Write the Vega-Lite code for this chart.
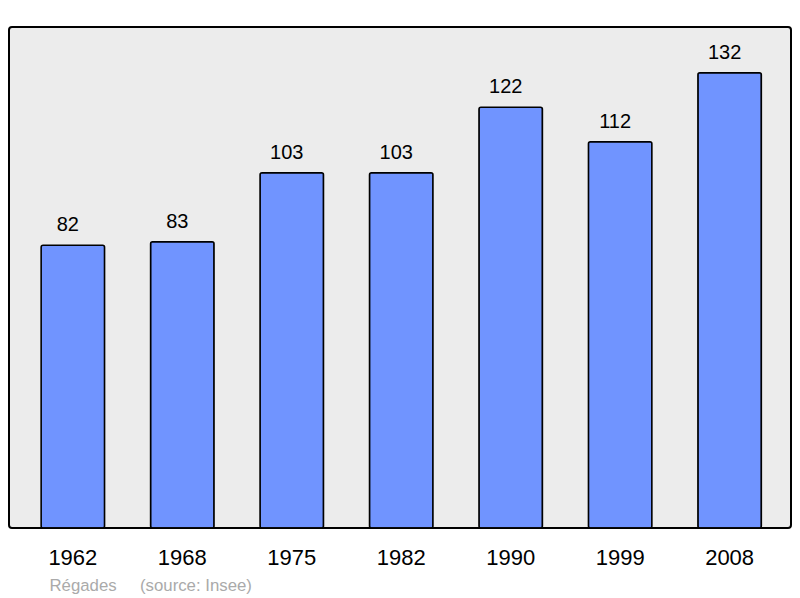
{
  "$schema": "https://vega.github.io/schema/vega-lite/v6.json",
  "width": 782,
  "height": 501,
  "padding": {"left": 9, "top": 27, "right": 9, "bottom": 70},
  "autosize": {"type": "none"},
  "background": "#ffffff",
  "config": {
    "view": {"stroke": "#000000", "strokeWidth": 2, "fill": "#ececec", "cornerRadius": 3},
    "font": "Liberation Sans"
  },
  "data": {
    "values": [
      {"year": "1962", "pop": 82},
      {"year": "1968", "pop": 83},
      {"year": "1975", "pop": 103},
      {"year": "1982", "pop": 103},
      {"year": "1990", "pop": 122},
      {"year": "1999", "pop": 112},
      {"year": "2008", "pop": 132}
    ]
  },
  "encoding": {
    "x": {
      "field": "year",
      "type": "nominal",
      "sort": null,
      "scale": {"paddingInner": 0.42, "paddingOuter": 0.282, "align": 0.52},
      "axis": {
        "title": "Régades\u00a0\u00a0\u00a0\u00a0 (source: Insee)",
        "titleColor": "#aaaaaa",
        "titleFontSize": 16.8,
        "titleFontWeight": "normal",
        "titleAlign": "left",
        "titleAnchor": "start",
        "titleBaseline": "alphabetic",
        "titleX": 40,
        "titleY": 62,
        "labelAngle": 0,
        "labelFontSize": 22,
        "labelColor": "#000000",
        "labelBaseline": "alphabetic",
        "labelPadding": 36,
        "ticks": false,
        "domain": false
      }
    },
    "y": {
      "field": "pop",
      "type": "quantitative",
      "scale": {"domain": [0, 145.3], "nice": false},
      "axis": null
    }
  },
  "layer": [
    {
      "mark": {"type": "bar", "fill": "#7094ff", "stroke": "#000000", "strokeWidth": 1.5, "cornerRadius": 2}
    },
    {
      "mark": {"type": "text", "baseline": "alphabetic", "dy": -14, "dx": -5, "fontSize": 20, "color": "#000000"},
      "encoding": {"text": {"field": "pop", "type": "quantitative"}}
    }
  ]
}
